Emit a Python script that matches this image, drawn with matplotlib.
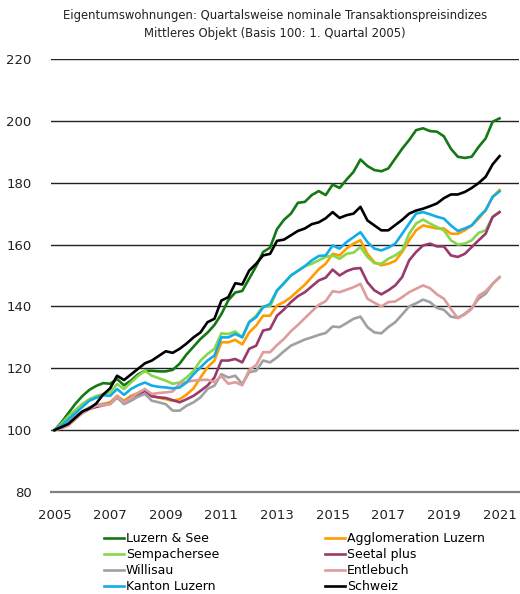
import matplotlib
matplotlib.use("Agg")
import matplotlib.pyplot as plt
import numpy as np

plt.rcParams["font.family"] = ["DejaVu Sans"]

# Quarterly index values, 2005 Q1 .. 2021 Q1 (Basis 100 = 2005 Q1)
years = [2005, 2007, 2009, 2011, 2013, 2015, 2017, 2019, 2021]

luzern_see = [100, 102.5, 105.5, 108.5, 111, 113, 114.3, 115.2, 115, 116.5,
              114.5, 116, 118, 119.2, 119.2, 119, 119, 119.5, 121.5, 124.5,
              127, 129.5, 131.5, 134, 137.5, 142, 144.5, 145, 149, 153,
              157.6, 159, 165, 168, 170, 173.5, 173.8, 176, 177.3, 176,
              179.4, 178.3, 181, 183.5, 187.5, 185.4, 184.1, 183.7, 184.6, 187.8,
              191, 193.8, 197, 197.6, 196.7, 196.5, 195, 191, 188.4, 188,
              188.4, 191.6, 194.3, 199.7, 200.8]
agglo_luzern = [100, 101, 103, 104.5, 106, 107.3, 108, 108.5, 109, 111.1,
                109.5, 111.1, 112, 113, 111.1, 110.5, 110, 109.5, 110, 111.5,
                113.5, 117, 120.3, 122.5, 128.4, 128.4, 129.2, 127.7, 131.6, 133.8,
                137, 137, 140.3, 141.4, 143, 145, 147, 149.5, 152, 153.8,
                157, 156.5, 158.7, 160.3, 161.4, 157, 154.3, 153.3, 153.8, 154.7,
                157.6, 161.4, 164.6, 166.2, 165.7, 165.2, 165.2, 163.5, 163.5, 164.6,
                166.2, 168.4, 171.1, 175.4, 177.6]
sempachersee = [100, 102, 104.5, 106.5, 108.5, 110, 111, 111.7, 112.2, 114.9,
                113.3, 115.4, 117.5, 119.2, 117.6, 116.8, 116, 115, 115.4, 117,
                119.2, 122.5, 124.6, 126.3, 131.3, 131.1, 131.9, 130, 135, 137,
                140, 140, 145, 147.5, 150, 151.5, 153, 153.8, 154.9, 156,
                156.5, 155.4, 157, 157.4, 159.2, 156, 154, 153.8, 155.4, 156.5,
                158.1, 163.5, 166.8, 168.1, 166.8, 165.7, 164.6, 161.4, 160, 160.3,
                161.4, 163.8, 164.6, 168.9, 170.5]
seetal_plus = [100, 101, 102.5, 104, 105.5, 106.8, 107.5, 108, 108.6, 110.6,
               109, 110.6, 111.5, 112.7, 110.9, 110.6, 110.4, 109.7, 109, 110,
               111.1, 112.7, 114.4, 117, 122.5, 122.5, 123, 121.9, 126.3, 127.3,
               132.2, 132.7, 137, 139, 141.4, 143.3, 144.6, 146.5, 148.4, 149.3,
               151.9, 150, 151.4, 152.2, 152.4, 147.8, 145.2, 143.9, 145.2, 146.8,
               149.5, 154.9, 157.6, 159.7, 160.3, 159.4, 159.4, 156.5, 156, 157,
               159.2, 161.4, 163.5, 168.9, 170.5]
willisau = [100, 101, 103, 104.5, 106, 107.3, 108, 108.4, 108.4, 110.6,
            108.4, 109.5, 110.8, 111.7, 109.5, 109, 108.4, 106.3, 106.3, 107.9,
            109, 110.6, 113.3, 114.4, 118.1, 117, 117.6, 114.9, 118.7, 119.2,
            122.5, 121.9, 123.5, 125.5, 127.3, 128.3, 129.3, 130, 130.8, 131.4,
            133.5, 133.3, 134.6, 136, 136.7, 133.3, 131.6, 131.3, 133.3, 134.9,
            137.4, 140, 141, 142.2, 141.4, 139.5, 138.9, 136.7, 136.3, 137.6,
            139.5, 142.5, 144.1, 147.3, 149.5]
entlebuch = [100, 100.5, 101.5, 103.5, 105.5, 106.8, 107.9, 108, 108.4, 111.1,
             109, 110.5, 112, 113.3, 111.7, 112, 112.2, 112.5, 115, 115.6,
             116, 116.2, 116.3, 115.5, 117.5, 115, 115.5, 114.5, 119.5, 121,
             125.2, 125.2, 127.5, 129.5, 132, 134, 136.2, 138.4, 140.5, 141.7,
             144.9, 144.6, 145.4, 146.2, 147.3, 142.5, 141.2, 140, 141.4, 141.6,
             143, 144.6, 145.7, 146.8, 145.9, 143.9, 142.5, 139.2, 136.2, 137.4,
             139.2, 143.5, 144.9, 147.3, 149.3]
kanton_luzern = [100, 101.5, 103.5, 105.5, 107.5, 109.5, 110.5, 111.3, 111.1, 113.3,
                 111.4, 113.3, 114.5, 115.4, 114.4, 114, 113.8, 113.5, 113.8, 115.4,
                 118.1, 120.3, 122.5, 124.1, 130, 130, 131.1, 130, 134.9, 136.5,
                 139.7, 140.8, 145.2, 147.5, 150, 151.5, 153, 154.9, 156.3, 156.5,
                 159.7, 158.7, 160.8, 162.4, 164, 160.8, 158.7, 158.1, 159, 160.3,
                 163.5, 166.8, 170, 170.5, 169.8, 169, 168.4, 166.2, 164.4, 165.2,
                 166.2, 168.9, 171.1, 175.4, 177.2]
schweiz = [100, 101, 102, 104, 106, 107, 108.6, 111.5, 113.5, 117.6,
           116.2, 118, 119.8, 121.6, 122.5, 124, 125.5, 125, 126.3, 128,
           130, 131.6, 134.9, 136, 141.9, 143, 147.5, 147.1, 151.6, 153.8,
           156.5, 157, 161.2, 161.6, 163, 164.4, 165.2, 166.6, 167.2, 168.5,
           170.5, 168.6, 169.5, 170, 172.2, 167.8, 166.2, 164.6, 164.6, 166.3,
           168, 170, 171, 171.6, 172.4, 173.3, 175, 176.2, 176.2, 177,
           178.3, 179.9, 181.9, 185.9, 188.6]

series = [
    ("Luzern & See", luzern_see, "#147814"),
    ("Agglomeration Luzern", agglo_luzern, "#FF9C00"),
    ("Sempachersee", sempachersee, "#86D84A"),
    ("Seetal plus", seetal_plus, "#983A6C"),
    ("Willisau", willisau, "#A0A0A0"),
    ("Entlebuch", entlebuch, "#DE9C9C"),
    ("Kanton Luzern", kanton_luzern, "#12ADE8"),
    ("Schweiz", schweiz, "#000000"),
]

fig = plt.figure(figsize=(5.2, 5.94), dpi=100)
ax = fig.add_axes([51 / 520, 1 - 492 / 594, 468 / 520, 433 / 594])

x = np.arange(len(schweiz))
lines = {}
for name, values, color in series:
    (line,) = ax.plot(x, values, color=color, lw=1.9, label=name,
                      solid_joinstyle="round")
    lines[name] = line

ax.set_ylim(80, 220)
ax.set_xlim(-0.5, 66.8)
ax.set_yticks(range(80, 221, 20))
ax.set_xticks([(y - 2005) * 4 for y in years])
ax.set_xticklabels([str(y) for y in years])
ax.tick_params(axis="both", length=0, labelsize=9.5, colors="#222222")
ax.tick_params(axis="y", pad=14)
ax.tick_params(axis="x", pad=12)

ax.yaxis.grid(True, color="#222222", lw=1.0)
ax.set_axisbelow(True)
for side in ["top", "left", "right"]:
    ax.spines[side].set_visible(False)
ax.spines["bottom"].set_color("#808080")
ax.spines["bottom"].set_linewidth(1.6)

fig.text(275 / 520, 1 - 24.5 / 594,
         "Eigentumswohnungen: Quartalsweise nominale Transaktionspreisindizes\n"
         "Mittleres Objekt (Basis 100: 1. Quartal 2005)",
         ha="center", va="center", fontsize=8.4, linespacing=1.45,
         color="#222222")

# legend filled row by row like the original (column-major for matplotlib)
order = ["Luzern & See", "Sempachersee", "Willisau", "Kanton Luzern",
         "Agglomeration Luzern", "Seetal plus", "Entlebuch", "Schweiz"]
fig.legend([lines[n] for n in order], order, ncol=2, frameon=False,
           loc="upper left", bbox_to_anchor=(104 / 520, 1 - 532 / 594),
           fontsize=9, handlelength=1.6, handletextpad=0.15,
           labelspacing=0.25, columnspacing=8.5, borderpad=0,
           borderaxespad=0)

fig.savefig("out.png", dpi=100)
